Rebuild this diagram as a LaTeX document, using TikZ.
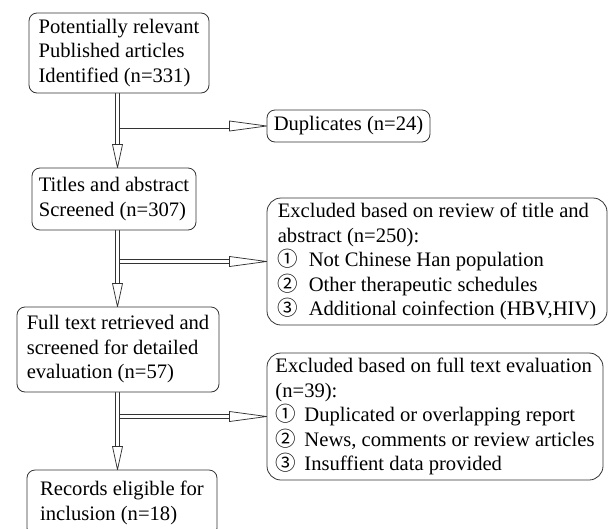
\documentclass[tikz,border=0pt]{standalone}
\usepackage{fontspec}
\setmainfont{Liberation Serif}
\newfontfamily\cjkcirc{Noto Sans CJK SC}
\usetikzlibrary{calc}
\pgfdeclarelayer{background}
\pgfsetlayers{background,main}

\newcommand\circd[2]{\makebox[#1][l]{\raisebox{0pt}{\cjkcirc\fontsize{20.5}{24.5}\selectfont #2}}}
\newcommand\hollowarrow[3]{%
  \coordinate (hb) at ($(#2)!#3!(#1)$);
  \draw[shaft] (#1) -- (hb);
  \draw[headst] (#2) -- ($(hb)!5pt!90:(#2)$) -- ($(hb)!5pt!-90:(#2)$) -- cycle;
}

\tikzset{
  box/.style={draw=black!80, line width=0.8pt, rounded corners=8pt, align=left,
    font=\fontsize{20.6}{24.5}\selectfont, inner sep=0pt, fill=white, text=black},
  bigbox/.style={box, rounded corners=14pt},
  shaft/.style={draw=black!80, line width=0.75pt, double=white, double distance=3.5pt},
  headst/.style={draw=black!80, line width=0.75pt, fill=white, line join=miter}
}

\begin{document}
\begin{tikzpicture}[x=1pt,y=-1pt]
\useasboundingbox (0,0) rectangle (608,528);
\clip (0,0) rectangle (608,528);

\node[box, minimum width=180pt, minimum height=80pt] (b1) at (119,53)
  {Potentially relevant\\Published articles\\Identified (n=331)};
\node[box, minimum width=163pt, minimum height=32pt] (dup) at (348.5,126)
  {Duplicates (n=24)};
\node[box, minimum width=164pt, minimum height=62pt] (b2) at (114,199)
  {Titles and abstract\\Screened (n=307)};
\node[bigbox, minimum width=340pt, minimum height=127pt] (ex1) at (437,261.5)
  {Excluded based on review of title and\\abstract (n=250):\\
   \circd{31pt}{①}Not Chinese Han population\\
   \circd{31pt}{②}Other therapeutic schedules\\
   \circd{31pt}{③}Additional coinfection (HBV,HIV)};
\node[box, minimum width=202pt, minimum height=85pt] (b3) at (118,349.5)
  {Full text retrieved and\\screened for detailed\\evaluation (n=57)};
\node[bigbox, minimum width=336pt, minimum height=127pt] (ex2) at (435,416.5)
  {Excluded based on full text evaluation\\(n=39):\\
   \circd{29pt}{①}Duplicated or overlapping report\\
   \circd{29pt}{②}News, comments or review articles\\
   \circd{29pt}{③}Insuffient data provided};
\node[box, minimum width=190pt, minimum height=66pt] (b4) at (122,503)
  {Records eligible for\\inclusion (n=18)};

\coordinate (ax) at (117.5,0);
\coordinate (a1) at (b1.south -| ax);
\coordinate (a2) at (b2.north -| ax);
\coordinate (a3) at (b2.south -| ax);
\coordinate (a4) at (b3.north -| ax);
\coordinate (a5) at (b3.south -| ax);
\coordinate (a6) at (b4.north -| ax);
\coordinate (j1) at ($(ax |- dup.west)+(2.5,0)$);
\coordinate (j2) at ($(ax |- ex1.west)+(2.5,0)$);
\coordinate (j3) at ($(ax |- ex2.west)+(2.5,0)$);

\begin{pgfonlayer}{background}
\hollowarrow{j1}{dup.west}{37pt}
\hollowarrow{j2}{ex1.west}{37pt}
\hollowarrow{j3}{ex2.west}{37pt}
\hollowarrow{a1}{a2}{23pt}
\hollowarrow{a3}{a4}{23pt}
\hollowarrow{a5}{a6}{23pt}
\end{pgfonlayer}
\end{tikzpicture}
\end{document}
